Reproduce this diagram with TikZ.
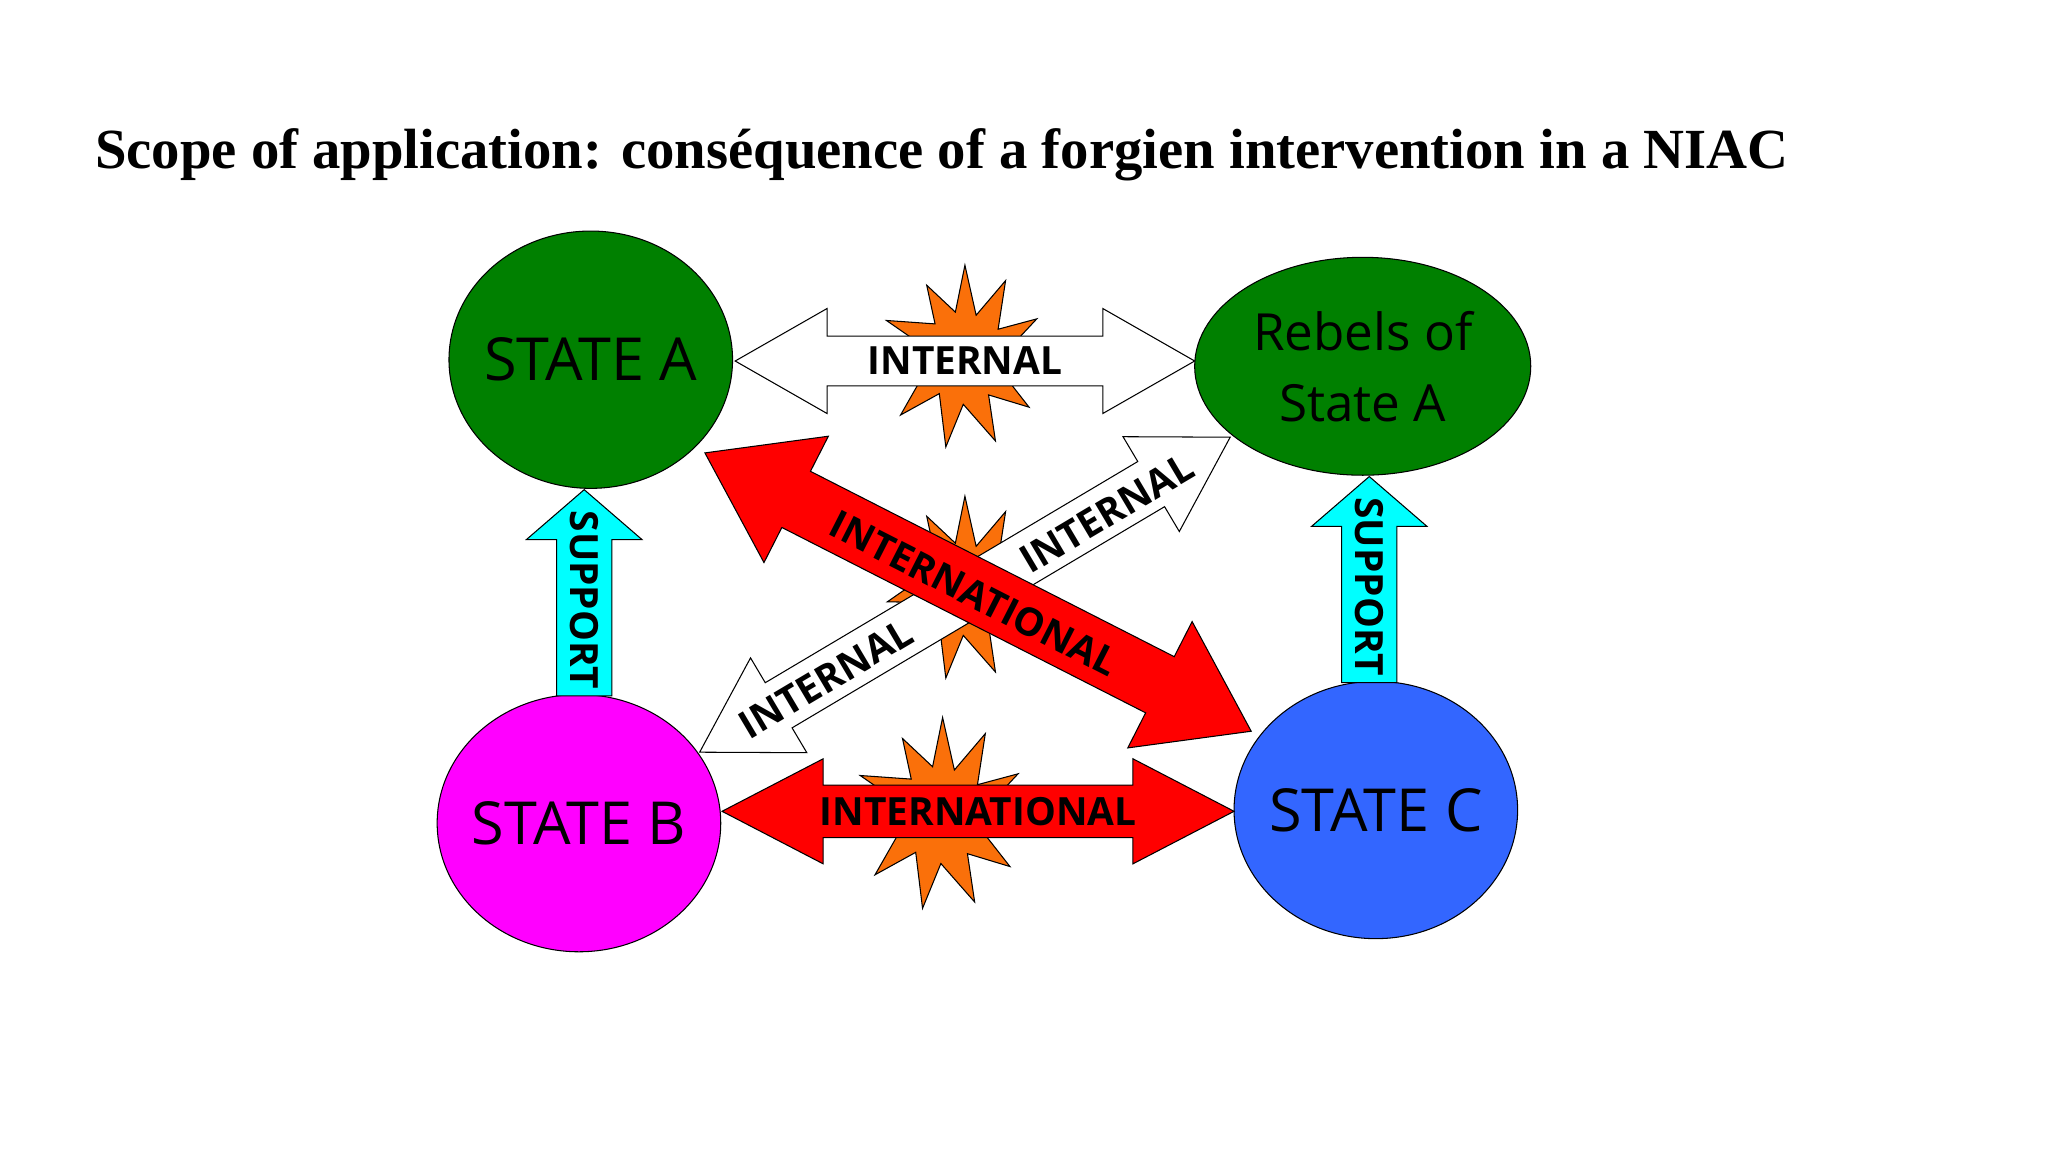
\documentclass[tikz,border=0pt]{standalone}
\usepackage{fontspec}
\usetikzlibrary{shapes.geometric}
\setmainfont{Open Sans}
\newfontfamily\titlefont{Liberation Serif}
\begin{document}
\begin{tikzpicture}[x=0.5pt,y=0.5pt,
  bubble/.style={draw=black,ellipse,inner sep=0pt},
  lbl/.style={font=\bfseries\fontsize{14.8}{16}\selectfont,inner sep=0pt},
  big/.style={font=\fontsize{22.6}{26}\selectfont,inner sep=0pt},
  boomstyle/.style={draw=black,fill=boomc,line width=0.4pt}]
\definecolor{boomc}{RGB}{250,112,10}
\definecolor{stgreen}{RGB}{0,128,0}
\definecolor{stblue}{RGB}{51,102,255}
\definecolor{stmag}{RGB}{255,0,255}
\definecolor{supc}{RGB}{0,255,255}
\useasboundingbox (0,0) rectangle (1560,878);
% title
\node[anchor=base west,inner sep=0pt,font=\titlefont\bfseries\fontsize{21.6}{26}\selectfont] (title) at (72,750) {Scope of application: conséquence of a forgien intervention in a NIAC};
% explosions
\newcommand\boom[2]{%
  \begin{scope}[shift={#1},scale=#2]
  \draw[boomstyle] (90:70) -- (102:35) -- (118:62) -- (132:34) -- (155:66) -- (165:33) -- (190:60) -- (200:32) -- (222:66) -- (235:34) -- (258:70) -- (268:36) -- (290:68) -- (302:34) -- (322:62) -- (335:33) -- (355:58) -- (8:32) -- (28:62) -- (40:33) -- (62:66) -- (75:33) -- cycle;
  \end{scope}}
\boom{(735,606)}{1}
\boom{(735,430)}{1}
\boom{(718,258)}{1.05}
% double arrow macro: mid, angle, length, shaft hw, head hw, head len, fill
\newcommand\dbl[7]{%
  \begin{scope}[shift={#1},rotate=#2]
  \pgfmathsetmacro\L{#3/2}\pgfmathsetmacro\s{#4}\pgfmathsetmacro\h{#5}\pgfmathsetmacro\k{#3/2-#6}
  \draw[fill=#7] (-\L,0) -- (-\k,\h) -- (-\k,\s) -- (\k,\s) -- (\k,\h) -- (\L,0) -- (\k,-\h) -- (\k,-\s) -- (-\k,-\s) -- (-\k,-\h) -- cycle;
  \end{scope}}
\newcommand\sgl[6]{%
  \begin{scope}[shift={#1},rotate=#2]
  \pgfmathsetmacro\L{#3/2}\pgfmathsetmacro\s{#4}\pgfmathsetmacro\h{#5}\pgfmathsetmacro\k{#3/2-#6}
  \draw[fill=supc] (-\L,\s) -- (\k,\s) -- (\k,\h) -- (\L,0) -- (\k,-\h) -- (\k,-\s) -- (-\L,-\s) -- cycle;
  \end{scope}}
% nodes
\node[bubble,fill=stgreen,minimum width=108pt,minimum height=98pt] (A) at (450,604) {};
\node[big] at (A) {STATE A};
\node[bubble,fill=stgreen,minimum width=128pt,minimum height=83pt] (R) at (1038,599) {};
\node[align=center,inner sep=0pt,font=\fontsize{19.5}{27}\selectfont] at (R) {Rebels of\\State A};
\node[bubble,fill=stmag,minimum width=108pt,minimum height=98pt] (B) at (441,251) {};
\node[big] at (B) {STATE B};
\node[bubble,fill=stblue,minimum width=108pt,minimum height=98pt] (C) at (1048,261) {};
\node[big] at (C) {STATE C};
% arrows
\dbl{(735,603)}{0}{350}{19}{40}{70}{white}
\node[lbl] (l1) at (735,603) {INTERNAL};
\dbl{(735,425)}{30.7}{470}{20}{42}{70}{white}
\node[lbl,rotate=30.7] (l2) at (843,487) {INTERNAL};
\node[lbl,rotate=30.7] (l3) at (629,361) {INTERNAL};
\dbl{(745,427)}{-27}{467}{24}{54}{78}{red}
\node[lbl,rotate=-27] (l4) at (742,426) {INTERNATIONAL};
\dbl{(745,260)}{0}{390}{20}{40}{77}{red}
\node[lbl] (l5) at (745,260) {INTERNATIONAL};
\sgl{(445,426.5)}{90}{157}{21}{44}{38}
\node[lbl,rotate=-90] (s1) at (445,421) {SUPPORT};
\sgl{(1043,436.5)}{90}{157}{21}{44}{38}
\node[lbl,rotate=-90] (s2) at (1043,431) {SUPPORT};
\end{tikzpicture}
\end{document}
